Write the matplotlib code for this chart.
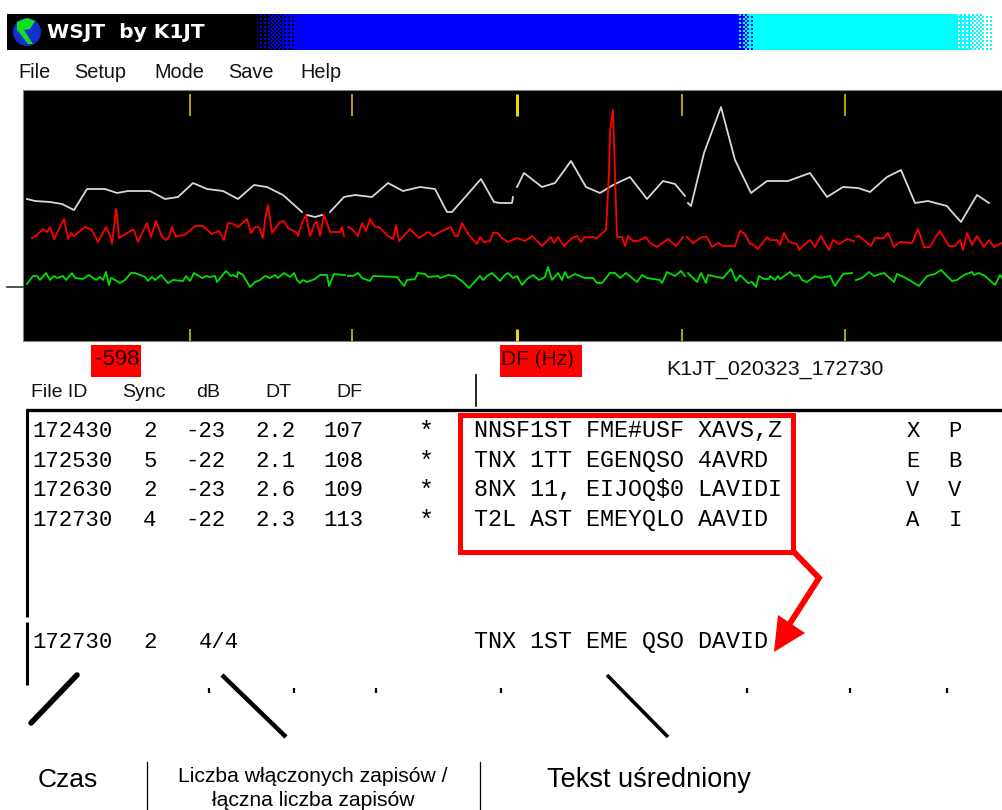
# plot.py - WSJT screenshot with Polish captions, drawn in picture coordinates
import numpy as np
import matplotlib
matplotlib.use("Agg")
import matplotlib.pyplot as plt
from matplotlib.patches import Rectangle, Polygon, Circle

nan = float("nan")

# traces as (pixels across, pixels down)
white_pts = [(27, 199), (35, 201), (50, 202), (62, 204), (74, 210), (87, 189), (105, 189), (117, 193), (128, 191),
             (150, 191), (165, 199), (178, 197), (193, 183), (207, 189), (223, 191), (238, 199), (254, 185), (267, 187),
             (283, 195), (302, 212), (nan, nan), (307, 215), (315, 217), (322, 215), (nan, nan), (330, 212), (344, 197),
             (355, 195), (372, 197), (388, 183), (403, 191), (420, 187), (435, 189), (447, 212), (452, 212), (481, 179),
             (494, 202), (500, 203), (512, 203), (513, 197), (nan, nan), (517, 187), (524, 173), (542, 187), (555, 183),
             (571, 161), (586, 187), (600, 193), (613, 185), (630, 177), (647, 199), (663, 181), (675, 184), (685, 196),
             (nan, nan), (688, 203), (691, 206), (704, 153), (721, 107), (735, 160), (751, 193), (767, 181), (788, 181),
             (810, 173), (827, 197), (843, 187), (858, 188), (870, 192), (887, 177), (901, 170), (915, 203), (928, 201),
             (947, 206), (952, 212), (961, 222), (977, 195), (989, 203)]

red_pts = [(32, 238), (35, 237), (43, 229), (47, 232), (50, 227), (54, 239), (64, 219), (68, 239), (71, 233), (74, 236),
           (85, 227), (92, 230), (98, 242), (106, 227), (111, 238), (112, 244), (116, 209), (117, 215), (119, 238),
           (132, 230), (134, 230), (138, 242), (147, 223), (151, 237), (156, 221), (162, 237), (166, 240), (169, 237),
           (172, 227), (176, 237), (177, 236), (185, 235), (195, 226), (203, 226), (212, 234), (219, 231), (224, 240),
           (228, 223), (233, 224), (238, 227), (247, 219), (251, 233), (255, 227), (259, 227), (263, 238), (265, 220),
           (268, 205), (270, 218), (272, 233), (280, 222), (284, 221), (288, 228), (297, 233), (298, 236), (302, 223),
           (306, 215), (310, 236), (315, 223), (317, 222), (320, 236), (324, 215), (327, 223), (330, 232), (340, 232),
           (342, 227), (344, 236), (nan, nan), (348, 227), (352, 229), (358, 236), (362, 223), (366, 231), (370, 219),
           (375, 227), (379, 227), (388, 236), (393, 239), (396, 225), (399, 241), (410, 229), (419, 238), (428, 232),
           (433, 236), (442, 231), (451, 227), (455, 236), (458, 236), (462, 223), (468, 234), (477, 244), (480, 237),
           (484, 242), (490, 241), (493, 233), (498, 233), (500, 236), (502, 238), (508, 242), (517, 238), (525, 241),
           (532, 236), (542, 246), (551, 237), (554, 243), (558, 237), (564, 246), (572, 238), (577, 236), (581, 242),
           (585, 237), (592, 237), (597, 238), (606, 230), (607, 212), (609, 172), (610, 131), (613, 110), (614, 143),
           (616, 207), (617, 237), (622, 237), (625, 246), (628, 236), (633, 241), (638, 241), (646, 237), (650, 243),
           (657, 247), (668, 239), (676, 246), (683, 237), (nan, nan), (687, 237), (693, 243), (702, 237), (707, 237),
           (712, 247), (718, 243), (723, 246), (735, 246), (740, 231), (745, 234), (750, 244), (752, 244), (758, 249),
           (767, 237), (770, 240), (777, 240), (780, 245), (784, 233), (789, 242), (797, 244), (799, 250), (804, 245),
           (810, 240), (815, 247), (821, 236), (829, 250), (833, 240), (839, 244), (847, 239), (854, 241), (nan, nan),
           (856, 237), (859, 236), (865, 241), (871, 246), (875, 238), (884, 238), (888, 233), (894, 247), (900, 242),
           (912, 243), (918, 229), (924, 247), (930, 247), (935, 238), (940, 231), (949, 246), (955, 246), (960, 240),
           (963, 250), (967, 233), (972, 245), (977, 236), (984, 247), (989, 240), (994, 247), (1002, 243)]

green_pts = [(27, 284), (33, 276), (37, 276), (40, 280), (46, 273), (50, 280), (54, 276), (57, 278), (63, 276), (66, 280),
             (72, 273), (75, 278), (83, 279), (89, 275), (96, 280), (100, 277), (103, 280), (106, 272), (109, 285),
             (111, 278), (115, 280), (120, 283), (125, 280), (131, 273), (135, 273), (145, 277), (148, 281), (152, 277),
             (155, 280), (161, 275), (168, 283), (173, 280), (183, 281), (186, 276), (190, 281), (194, 273), (202, 278),
             (207, 276), (210, 277), (215, 276), (217, 282), (226, 271), (231, 276), (233, 275), (237, 277), (238, 272),
             (243, 275), (250, 287), (255, 282), (260, 280), (265, 276), (270, 278), (275, 275), (278, 278), (284, 273),
             (290, 277), (294, 273), (297, 280), (300, 283), (303, 280), (307, 282), (315, 279), (320, 275), (327, 275),
             (329, 286), (334, 274), (345, 275), (nan, nan), (348, 276), (353, 276), (358, 273), (362, 278), (370, 281),
             (373, 276), (397, 277), (404, 286), (407, 280), (415, 279), (418, 273), (425, 274), (428, 277), (438, 276),
             (440, 278), (448, 275), (455, 276), (463, 282), (469, 288), (480, 276), (483, 280), (487, 276), (492, 273),
             (500, 281), (505, 275), (508, 273), (513, 278), (517, 276), (522, 285), (527, 279), (533, 275), (539, 280),
             (545, 277), (548, 267), (552, 280), (558, 273), (562, 280), (565, 272), (568, 278), (575, 274), (582, 277),
             (585, 278), (593, 278), (597, 283), (602, 283), (610, 273), (615, 273), (620, 278), (626, 273), (637, 282),
             (642, 275), (647, 278), (660, 280), (662, 283), (667, 272), (675, 276), (681, 271), (685, 276), (nan, nan),
             (688, 273), (697, 282), (701, 273), (706, 283), (708, 275), (717, 277), (723, 278), (731, 269), (736, 281),
             (740, 275), (748, 283), (752, 282), (756, 287), (759, 276), (764, 279), (769, 279), (770, 276), (775, 280),
             (778, 276), (780, 279), (790, 272), (794, 276), (799, 275), (802, 280), (807, 282), (815, 276), (820, 278),
             (830, 276), (835, 286), (843, 274), (852, 273), (nan, nan), (856, 280), (862, 278), (869, 272), (874, 276),
             (884, 273), (894, 282), (897, 274), (904, 277), (919, 286), (927, 276), (935, 274), (941, 270), (952, 281),
             (957, 280), (964, 275), (972, 272), (974, 275), (979, 273), (985, 276), (995, 285), (1000, 275), (1002, 278)]

menu_labels = ["File", "Setup", "Mode", "Save", "Help"]
header_labels = ["File ID", "Sync", "dB", "DT", "DF"]
file_ids = ["172430", "172530", "172630", "172730"]
sync_vals = ["2", "5", "2", "4"]
db_vals = ["-23", "-22", "-23", "-22"]
dt_vals = ["2.2", "2.1", "2.6", "2.3"]
df_vals = ["107", "108", "109", "113"]
messages = ["NNSF1ST FME#USF XAVS,Z", "TNX 1TT EGENQSO 4AVRD", "8NX 11, EIJOQ$0 LAVIDI", "T2L AST EMEYQLO AAVID"]
col_a = ["X", "E", "V", "A"]
col_b = ["P", "B", "V", "I"]

fig = plt.figure(figsize=(10.02, 8.10), dpi=100)
ax = fig.add_axes([0, 0, 1, 1])
ax.axis("off")

MONO = "Liberation Mono"
SANS = "Liberation Sans"


def dither(x0, x1, c0, c1, rows=36):
    # stipple between two flat colours, 2 px cells like the title bar
    w = int(x1 - x0)
    yy, xx = np.mgrid[0:rows, 0:w]
    ramp = xx / max(w - 1, 1)
    thresh = np.array([[0.15, 0.62], [0.85, 0.38]])[(yy // 2) % 2, (xx // 2) % 2]
    mask = ramp > thresh
    img = np.where(mask[..., None], np.array(c1), np.array(c0)).astype(np.uint8)
    ax.imshow(img, extent=(x0, x1, 50, 14), interpolation="nearest", aspect="auto", zorder=2)


# title bar
black, blue, cyan, white = (0, 0, 0), (0, 0, 255), (0, 255, 255), (255, 255, 255)
ax.add_patch(Rectangle((7, 14), 241, 36, fc="black", ec="none"))
dither(248, 304, black, blue)
ax.add_patch(Rectangle((304, 14), 431, 36, fc="#0000ff", ec="none"))
dither(735, 758, blue, cyan)
ax.add_patch(Rectangle((758, 14), 192, 36, fc="#00ffff", ec="none"))
dither(950, 1002, cyan, white)
ax.set_xlim(0, 1002)
ax.set_ylim(810, 0)

# globe icon
ax.add_patch(Circle((27, 32), 14, fc="#1030d0", ec="none", zorder=3))
ax.add_patch(Polygon([(17, 22), (27, 18), (35, 21), (30, 29), (24, 30), (29, 38), (33, 44), (28, 44), (22, 36), (17, 30)],
                     fc="#10e020", ec="none", zorder=4))
ax.text(47, 38, "WSJT  by K1JT", color="white", fontsize=14.5, fontweight="bold", family="DejaVu Sans",
        va="baseline", ha="left", zorder=4)

# menu
for lab, x in zip(menu_labels, [18, 74, 154, 228, 300]):
    ax.text(x, 78, lab, fontsize=14.3, family=SANS, color="#111111", va="baseline", ha="left")

# spectrum panel
ax.add_patch(Rectangle((23, 90), 979, 251, fc="black", ec="#808080", lw=0.8))
ax.plot([7, 23], [287, 287], color="#333333", lw=1.2)
for x in [190, 352, 517, 682, 845]:
    w = 3 if x == 517 else 1.5
    ax.plot([x, x], [94, 116], color="#e8d800", lw=w * 0.72, solid_capstyle="butt")
    ax.plot([x, x], [329, 341], color="#e8d800", lw=w * 0.72, solid_capstyle="butt")
for pts, col in [(white_pts, "#d8d8d8"), (red_pts, "#ff0000"), (green_pts, "#00e000")]:
    xs, ys = np.array(pts).T
    ax.plot(xs, ys, color=col, lw=1.3)

# red labels under the panel
ax.add_patch(Rectangle((91, 345), 50, 32, fc="#ff0000", ec="none"))
ax.text(117, 365, "-598", fontsize=16, family=SANS, color="#200000", va="baseline", ha="center")
ax.add_patch(Rectangle((500, 345), 82, 32, fc="#ff0000", ec="none"))
ax.text(501, 365, "DF (Hz)", fontsize=15, family=SANS, color="#200000", va="baseline", ha="left")
ax.text(775, 375, "K1JT_020323_172730", fontsize=15.4, family=SANS, color="#111111", va="baseline", ha="center")

# table header
for lab, x in zip(header_labels, [59, 144, 208, 278, 349]):
    ax.text(x, 397, lab, fontsize=14, family=SANS, color="#111111", va="baseline", ha="center")
ax.plot([476, 476], [375, 406], color="black", lw=1.2)

# table frame
ax.plot([26, 1002], [410, 410], color="black", lw=2.4, solid_capstyle="butt")
ax.plot([27, 27], [409, 617], color="black", lw=2.2, solid_capstyle="butt")
ax.plot([27, 27], [622, 685], color="black", lw=2.2, solid_capstyle="butt")

# table rows
kw = dict(fontsize=16, family=MONO, color="black", va="baseline")
for i, y in enumerate([437, 467, 496, 526]):
    ax.text(32, y, file_ids[i], ha="left", **kw)
    ax.text(150, y, sync_vals[i], ha="center", **kw)
    ax.text(205, y, db_vals[i], ha="center", **kw)
    ax.text(275, y, dt_vals[i], ha="center", **kw)
    ax.text(343, y, df_vals[i], ha="center", **kw)
    ax.text(426, y + 2, "*", ha="center", fontsize=18, family=MONO, color="black", va="baseline")
    ax.text(474, y, messages[i], ha="left", fontsize=16.8, family=MONO, color="black", va="baseline")
    ax.text(913, y, col_a[i], ha="center", **kw)
    ax.text(955, y, col_b[i], ha="center", **kw)

# red box and arrow
ax.add_patch(Rectangle((460.5, 414.5), 333, 137.5, fc="none", ec="#ff0000", lw=3.6, zorder=5))
ax.plot([794, 819, 787], [552, 578, 628], color="#ff0000", lw=4.2, zorder=5, solid_joinstyle="miter")
ax.add_patch(Polygon([(774, 652), (778, 615), (805, 633)], fc="#ff0000", ec="none", zorder=5))

# averaged line
ax.text(32, 648, "172730", ha="left", **kw)
ax.text(150, 648, "2", ha="center", **kw)
ax.text(219, 648, "4/4", ha="center", **kw)
ax.text(474, 648, "TNX 1ST EME QSO DAVID", ha="left", fontsize=16.8, family=MONO, color="black", va="baseline")

# broken scale strip
ax.plot([77, 31], [675, 723], color="black", lw=4.0, solid_capstyle="round")
ax.plot([222, 286], [675, 737], color="black", lw=3.2, solid_capstyle="butt")
ax.plot([607, 668], [675, 737], color="black", lw=2.6, solid_capstyle="butt")
for x in [209, 294, 376, 501, 747, 850, 947]:
    ax.plot([x, x], [688, 693], color="black", lw=1.6, solid_capstyle="butt")

# captions
ax.text(68, 787, "Czas", fontsize=19, family=SANS, color="black", va="baseline", ha="center")
ax.plot([147, 147], [762, 810], color="black", lw=0.9)
ax.text(313, 782, "Liczba włączonych zapisów /", fontsize=15.2, family=SANS, color="black", va="baseline", ha="center")
ax.text(313, 806, "łączna liczba zapisów", fontsize=15.2, family=SANS, color="black", va="baseline", ha="center")
ax.plot([480, 480], [762, 810], color="black", lw=0.9)
ax.text(649, 787, "Tekst uśredniony", fontsize=19.5, family=SANS, color="black", va="baseline", ha="center")

fig.savefig("out.png", dpi=100)
